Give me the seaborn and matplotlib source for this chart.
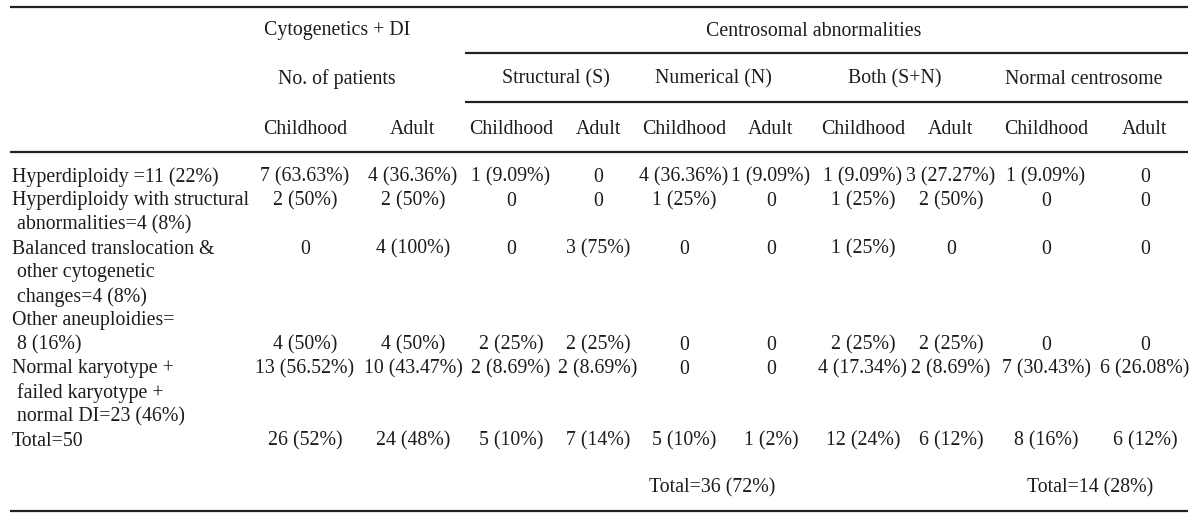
import matplotlib
matplotlib.use("Agg")
import matplotlib.pyplot as plt
import seaborn as sns

# --- table content ---
TOP_HEADER_LEFT = "Cytogenetics + DI"
TOP_HEADER_RIGHT = "Centrosomal abnormalities"
SUB_HEADER_LEFT = "No. of patients"
GROUPS = ["Structural (S)", "Numerical (N)", "Both (S+N)", "Normal centrosome"]
COLUMN_NAMES = ["Childhood", "Adult"] * 5

row_labels = [
    ["Hyperdiploidy =11 (22%)"],
    ["Hyperdiploidy with structural", " abnormalities=4 (8%)"],
    ["Balanced translocation &", " other cytogenetic", " changes=4 (8%)"],
    ["Other aneuploidies=", " 8 (16%)"],
    ["Normal karyotype +", " failed karyotype +", " normal DI=23 (46%)"],
    ["Total=50"],
]

cyto_child = ["7 (63.63%)", "2 (50%)", "0", "4 (50%)", "13 (56.52%)", "26 (52%)"]
cyto_adult = ["4 (36.36%)", "2 (50%)", "4 (100%)", "4 (50%)", "10 (43.47%)", "24 (48%)"]
struct_child = ["1 (9.09%)", "0", "0", "2 (25%)", "2 (8.69%)", "5 (10%)"]
struct_adult = ["0", "0", "3 (75%)", "2 (25%)", "2 (8.69%)", "7 (14%)"]
num_child = ["4 (36.36%)", "1 (25%)", "0", "0", "0", "5 (10%)"]
num_adult = ["1 (9.09%)", "0", "0", "0", "0", "1 (2%)"]
both_child = ["1 (9.09%)", "1 (25%)", "1 (25%)", "2 (25%)", "4 (17.34%)", "12 (24%)"]
both_adult = ["3 (27.27%)", "2 (50%)", "0", "2 (25%)", "2 (8.69%)", "6 (12%)"]
norm_child = ["1 (9.09%)", "0", "0", "0", "7 (30.43%)", "8 (16%)"]
norm_adult = ["0", "0", "0", "0", "6 (26.08%)", "6 (12%)"]

totals = ["Total=36 (72%)", "Total=14 (28%)"]

# --- layout (pixels) ---
W, H = 1200, 525
LEFT, RIGHT = 10, 1188
SPLIT = 465
COL_X = [305, 413, 511, 598, 684, 771, 863, 951, 1046, 1145]
GROUP_X = [556, 713, 895, 1084]
LINE_H = 24
FIRST_ROW_Y = 177
VALUE_LINE = [0, 0, 0, 1, 0, 0]   # which label line the values sit on
TEXT_COLOR = "#1c1c1c"
FS = 14.3

sns.set_theme(style="white")
plt.rcParams["font.family"] = ["Liberation Serif", "DejaVu Serif"]

fig = plt.figure(figsize=(W / 100, H / 100), dpi=100)
ax = fig.add_axes([0, 0, 1, 1])
ax.set_xlim(0, W)
ax.set_ylim(H, 0)
ax.axis("off")


def put(x, y, s, ha="center"):
    ax.text(x, y, s, ha=ha, va="center", fontsize=FS, color=TEXT_COLOR)


# rules
ax.hlines([7, 152, 511], LEFT, RIGHT, color="#222222", lw=1.6)
ax.hlines([53, 102], SPLIT, RIGHT, color="#222222", lw=1.6)

# header
put(337, 31, TOP_HEADER_LEFT)
put(814, 31, TOP_HEADER_RIGHT)
put(337, 79, SUB_HEADER_LEFT)
for gx, g in zip(GROUP_X, GROUPS):
    put(gx, 79, g)
for cx, c in zip(COL_X, COLUMN_NAMES):
    put(cx, 129, c)

# body
columns = [cyto_child, cyto_adult, struct_child, struct_adult, num_child,
           num_adult, both_child, both_adult, norm_child, norm_adult]
y = FIRST_ROW_Y
for i, lines in enumerate(row_labels):
    for j, line in enumerate(lines):
        put(12, y + j * LINE_H, line, ha="left")
    vy = y + VALUE_LINE[i] * LINE_H
    for cx, col in zip(COL_X, columns):
        put(cx, vy, col[i])
    y += len(lines) * LINE_H

# totals below
put(712, 488, totals[0])
put(1090, 488, totals[1])

fig.savefig("out.png", dpi=100)
